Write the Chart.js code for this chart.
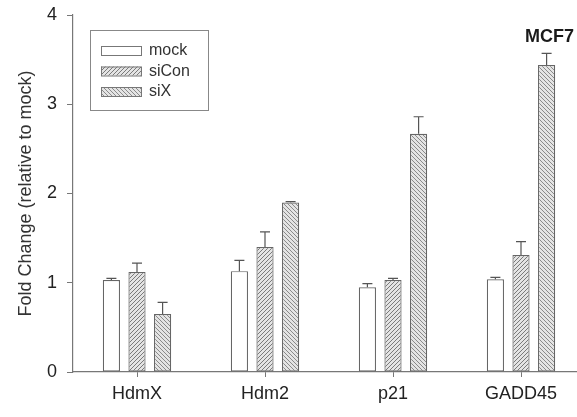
<!DOCTYPE html>
<html>
<head>
<meta charset="utf-8">
<script src="https://cdn.jsdelivr.net/npm/chart.js@4"></script>
<style>
  html, body { margin: 0; padding: 0; background: #fff; overflow: hidden; }
  #chart { position: absolute; left: 0; top: 0; }
</style>
</head>
<body>
<canvas id="chart" width="592" height="417"></canvas>
<script>
const GENES = [ 'HdmX', 'Hdm2', 'p21', 'GADD45' ];
const MOCK = [ 1.03, 1.13, 0.95, 1.04 ];
const MOCK_ERR = [ 0.02, 0.12, 0.04, 0.02 ];
const SICON = [ 1.12, 1.40, 1.03, 1.31 ];
const SICON_ERR = [ 0.10, 0.17, 0.02, 0.15 ];
const SIX = [ 0.65, 1.90, 2.67, 3.44 ];
const SIX_ERR = [ 0.13, 0.01, 0.19, 0.13 ];
const Y_TICKS = [ 0, 1, 2, 3, 4 ];

const FONT = 'Arial, "Liberation Sans"';

let hatch = function(forward, color) {
  let c = document.createElement('canvas');
  c.width = 4; c.height = 4;
  let g = c.getContext('2d');
  g.fillStyle = '#e4e4e4';
  g.fillRect(0, 0, 4, 4);
  g.strokeStyle = color;
  g.lineWidth = 1;
  g.beginPath();
  if (forward) {
    g.moveTo(-1, 5); g.lineTo(5, -1);
    g.moveTo(-1, 1); g.lineTo(1, -1);
    g.moveTo(3, 5); g.lineTo(5, 3);
  } else {
    g.moveTo(-1, -1); g.lineTo(5, 5);
    g.moveTo(-1, 3); g.lineTo(1, 5);
    g.moveTo(3, -1); g.lineTo(5, 1);
  }
  g.stroke();
  return g.createPattern(c, 'repeat');
};

let ctx = document.getElementById('chart').getContext('2d');
let patCon = hatch(true, '#7a7a7a');
let patX = hatch(false, '#8a8a8a');

let errorBars = {
  id: 'errorBars',
  afterDatasetsDraw(chart) {
    let g = chart.ctx;
    let y = chart.scales.y;
    g.save();
    g.strokeStyle = '#555';
    g.lineWidth = 1.2;
    chart.data.datasets.forEach((ds, i) => {
      chart.getDatasetMeta(i).data.forEach((bar, j) => {
        let top = y.getPixelForValue(ds.data[j] + ds.err[j]);
        g.beginPath();
        g.moveTo(bar.x, bar.y);
        g.lineTo(bar.x, top);
        g.moveTo(bar.x - 5, top);
        g.lineTo(bar.x + 5, top);
        g.stroke();
      });
    });
    g.restore();
  }
};

let boxLegend = {
  id: 'boxLegend',
  afterDraw(chart) {
    let g = chart.ctx;
    g.save();
    g.strokeStyle = '#888';
    g.lineWidth = 1;
    g.strokeRect(90.5, 30.5, 118, 80);
    chart.data.datasets.forEach((ds, i) => {
      let yy = 46 + i * 20.5;
      g.fillStyle = ds.backgroundColor;
      g.fillRect(101, yy, 40, 9);
      g.strokeStyle = '#777';
      g.strokeRect(101.5, yy + 0.5, 40, 9);
      g.fillStyle = '#333';
      g.font = '16px ' + FONT;
      g.textBaseline = 'middle';
      g.fillText(ds.label, 149, yy + 5);
    });
    g.font = 'bold 18px ' + FONT;
    g.textAlign = 'right';
    g.textBaseline = 'alphabetic';
    g.fillStyle = '#1a1a1a';
    g.fillText('MCF7', 574, 42);
    g.restore();
  }
};

new Chart(ctx, {
  type: 'bar',
  data: {
    labels: GENES,
    datasets: [
      { label: 'mock', data: MOCK, err: MOCK_ERR, backgroundColor: '#ffffff' },
      { label: 'siCon', data: SICON, err: SICON_ERR, backgroundColor: patCon },
      { label: 'siX', data: SIX, err: SIX_ERR, backgroundColor: patX },
    ].map(d => Object.assign(d, {
      borderColor: '#666', borderWidth: 1.2, borderSkipped: false,
      categoryPercentage: 0.6, barPercentage: 0.67,
    })),
  },
  options: {
    responsive: false,
    animation: false,
    devicePixelRatio: 1,
    layout: { padding: { top: 15, right: 7, left: 15, bottom: 0 } },
    plugins: { legend: { display: false }, tooltip: { enabled: false } },
    scales: {
      x: {
        grid: { drawOnChartArea: false, offset: false, tickLength: 5, color: '#777' },
        border: { color: '#777', width: 1.2 },
        ticks: { color: '#222', maxRotation: 0, minRotation: 0,
                 font: { family: FONT, size: 18 }, padding: 6 },
        afterFit: s => { s.height = 45; },
      },
      y: {
        min: 0, max: 4,
        afterBuildTicks: s => { s.ticks = Y_TICKS.map(v => ({ value: v })); },
        grid: { drawOnChartArea: false, tickLength: 6, color: '#777' },
        border: { color: '#777', width: 1.2 },
        ticks: { color: '#222', font: { family: FONT, size: 18 }, padding: 10 },
        title: { display: true, text: 'Fold Change (relative to mock)', color: '#333',
                 font: { family: FONT, size: 18 }, padding: 0 },
        afterFit: s => { s.width = 58; s.paddingTop = 0; s.paddingBottom = 0; },
      },
    },
  },
  plugins: [ errorBars, boxLegend ],
});
</script>
</body>
</html>
